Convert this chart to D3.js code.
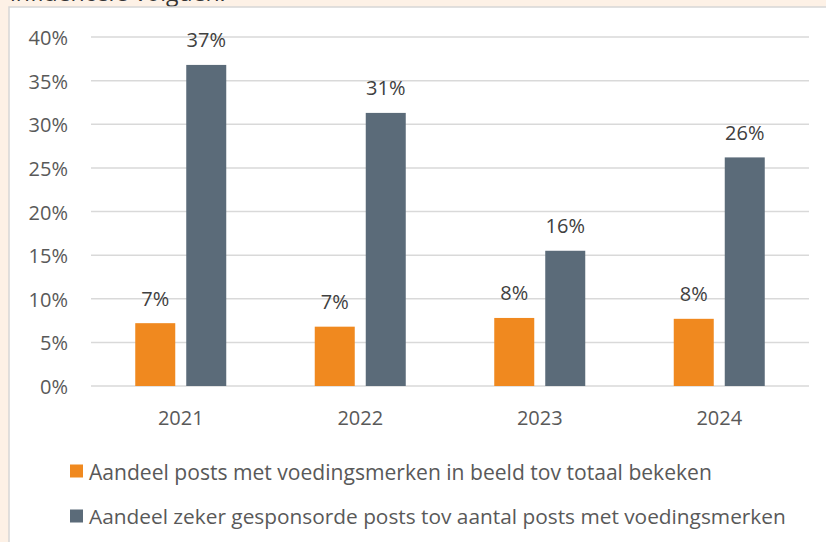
<!DOCTYPE html>
<html><head><meta charset="utf-8">
<script src="https://cdn.jsdelivr.net/npm/d3@7"></script>
<style>
html,body{margin:0;padding:0;background:#fdf1e6;}
svg{display:block;}
</style></head>
<body>
<script>
const categories = ["2021","2022","2023","2024"];
const seriesNames = [
  "Aandeel posts met voedingsmerken in beeld tov totaal bekeken",
  "Aandeel zeker gesponsorde posts tov aantal posts met voedingsmerken"
];
const seriesA = [0.072, 0.068, 0.078, 0.077];
const seriesB = [0.368, 0.313, 0.155, 0.262];
const labelsA = ["7%","7%","8%","8%"];
const labelsB = ["37%","31%","16%","26%"];
const yTicks = [0,0.05,0.10,0.15,0.20,0.25,0.30,0.35,0.40];
const colors = ["#F0891F","#5B6B79"];

const W = 826, H = 542;
const font = "'Open Sans', 'Noto Sans', sans-serif";
const fs = 20;
const svg = d3.select("body").append("svg").attr("width", W).attr("height", H);

svg.append("rect").attr("x",0).attr("y",0).attr("width",W).attr("height",H).attr("fill","#fdf1e6");
svg.append("text").attr("x",10).attr("y",1).attr("font-family",font).attr("font-size",23)
  .attr("fill","#333").text("influencers volgden.");
svg.append("rect").attr("x",9).attr("y",7).attr("width",W).attr("height",H).attr("fill","#fff")
  .attr("stroke","#d6d6d6").attr("stroke-width",1.5);

const x0 = d3.scaleBand().domain(categories).range([91,809]);
const y = d3.scaleLinear().domain([0,0.40]).range([386,37]);

svg.append("g").selectAll("line").data(yTicks).join("line")
  .attr("x1",91).attr("x2",809).attr("y1",d=>y(d)).attr("y2",d=>y(d))
  .attr("stroke","#d9d9d9").attr("stroke-width",1.5);

const yAxis = d3.axisLeft(y).tickValues(yTicks).tickFormat(d3.format(".0%")).tickSize(0).tickPadding(0);
const ya = svg.append("g").attr("transform","translate(68,0)").call(yAxis);
ya.select(".domain").remove();
ya.selectAll("text").attr("font-family",font).attr("font-size",fs).attr("fill","#595959")
  .attr("dy",null).attr("dominant-baseline","central");

const xAxis = d3.axisBottom(x0).tickSize(0).tickPadding(0);
const xa = svg.append("g").attr("transform","translate(0,417)").call(xAxis);
xa.select(".domain").remove();
xa.selectAll("text").attr("font-family",font).attr("font-size",fs).attr("fill","#595959")
  .attr("y",0).attr("dy",null).attr("dominant-baseline","central");

const bw = 40, gap = 11;
const data = categories.map((c,i)=>({c, vals:[seriesA[i],seriesB[i]], labs:[labelsA[i],labelsB[i]]}));
data.forEach(d=>{
  const cx = x0(d.c) + x0.bandwidth()/2;
  d.vals.forEach((v,j)=>{
    const bx = j===0 ? cx - gap/2 - bw : cx + gap/2;
    svg.append("rect").attr("x",bx).attr("y",y(v)).attr("width",bw).attr("height",y(0)-y(v))
      .attr("fill",colors[j]);
    svg.append("text").attr("x",bx+bw/2).attr("y",y(v)-25).attr("text-anchor","middle")
      .attr("dominant-baseline","central")
      .attr("font-family",font).attr("font-size",fs).attr("fill","#404040").text(d.labs[j]);
  });
});

const leg = svg.append("g");
const rowsY = [471, 516];
const targetW = [623, 697];
seriesNames.forEach((n,i)=>{
  const ly = rowsY[i];
  leg.append("rect").attr("x",70).attr("y",ly-6.5).attr("width",13).attr("height",13).attr("fill",colors[i]);
  const t = leg.append("text").attr("x",89).attr("y",ly).attr("dominant-baseline","central")
    .attr("font-family",font).attr("font-size",fs).attr("fill","#595959").text(n);
  const len = t.node().getComputedTextLength();
  t.attr("font-size", fs * targetW[i] / len);
});
</script>
</body></html>
